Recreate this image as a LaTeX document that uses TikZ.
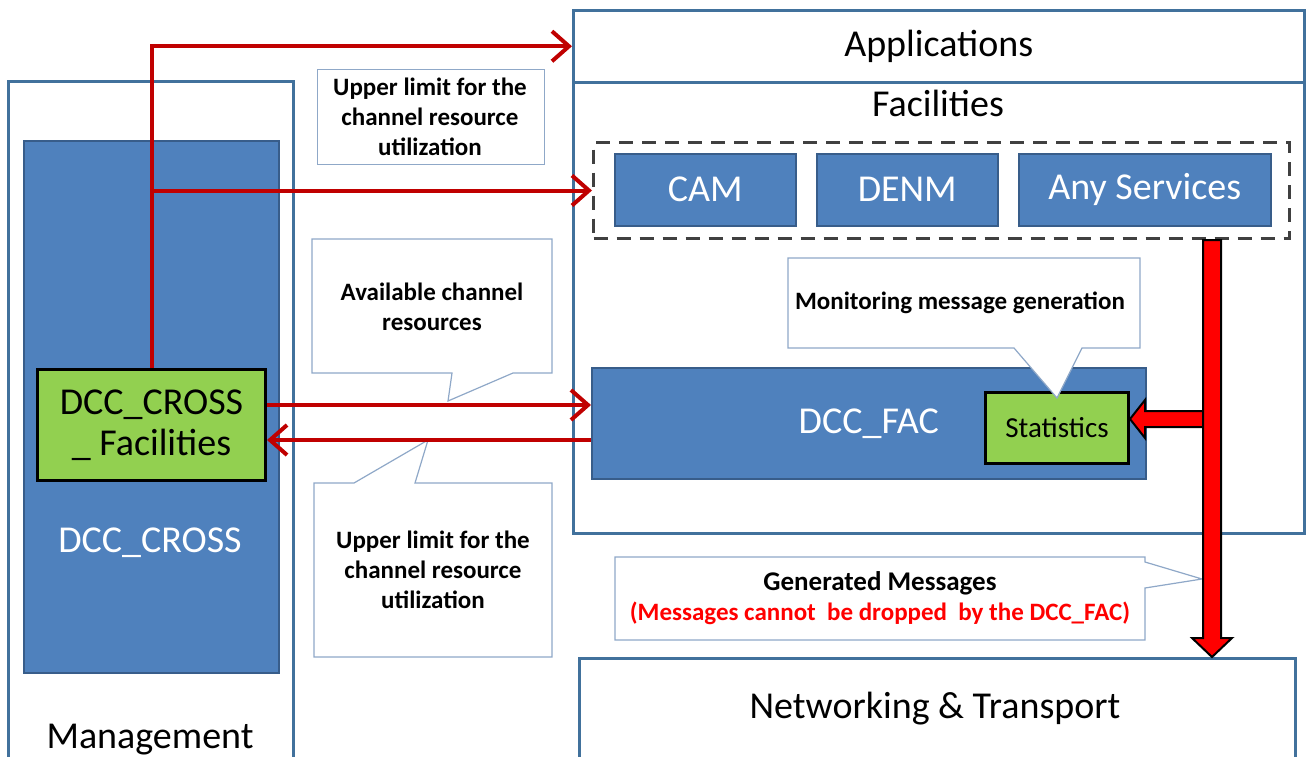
\documentclass[tikz,border=0pt]{standalone}
\usepackage{fontspec}
\setmainfont{Carlito}
\usetikzlibrary{arrows.meta,calc}
\definecolor{boxblue}{HTML}{4F81BD}
\definecolor{boxedge}{HTML}{385D8A}
\definecolor{layeredge}{HTML}{41719C}
\definecolor{statgreen}{HTML}{92D050}
\definecolor{darkred}{HTML}{C00000}
\definecolor{calloutedge}{HTML}{8FA8C8}
\definecolor{dashgray}{HTML}{404040}
\begin{document}
\begin{tikzpicture}[x=1pt,y=-1pt,
  layerbox/.style={draw=layeredge, line width=2.5pt, fill=white, anchor=north west, inner sep=0pt},
  bluebox/.style={draw=boxedge, line width=1.5pt, fill=boxblue, text=white, anchor=north west, inner sep=0pt, font=\fontsize{38}{44}\selectfont},
  greenbox/.style={draw=black, line width=3pt, fill=statgreen, anchor=north west, inner sep=0pt, align=center},
  bigtext/.style={font=\fontsize{38}{44}\selectfont, inner sep=0pt},
  note/.style={font=\bfseries\fontsize{25}{30}\selectfont, align=center, inner sep=0pt},
  outline/.style={draw=calloutedge, line width=1.2pt, fill=white},
  redline/.style={draw=darkred, line width=4pt, -{Straight Barb[length=17pt,width=30pt]}},
  fatarrow/.style={fill=red, draw=black, line width=2pt, line join=miter},
]
\useasboundingbox (0,0) rectangle (1306,756);
\clip (0,0) rectangle (1306,756);

% Management side
\node[layerbox, minimum width=285, minimum height=700] (mgmt) at (7,80) {};
\node[bigtext, anchor=base] (mgmtlabel) at (150,748) {Management};
\node[bluebox, minimum width=255, minimum height=532] (cross) at (23,140) {};
\node[bigtext, text=white] (crosslabel) at (150,543) {DCC\_CROSS};
\node[greenbox, minimum width=228, minimum height=111, font=\fontsize{38}{41}\selectfont] (green) at (36,368) {DCC\_CROSS\\\_ Facilities};

% Facilities / Applications
\node[layerbox, minimum width=731, minimum height=451] (facil) at (572,81) {};
\node[bigtext] (faciltext) at (938,103) {Facilities};
\node[layerbox, minimum width=731, minimum height=72, font=\fontsize{38}{44}\selectfont] (apps) at (572,9) {Applications};
\node[draw=dashgray, line width=3pt, dash pattern=on 14pt off 9pt, anchor=north west, inner sep=0pt, minimum width=696, minimum height=96] (dashbox) at (592,141) {};
\node[bluebox, minimum width=181, minimum height=72] (cam) at (614,153) {CAM};
\node[bluebox, minimum width=181, minimum height=72] (denm) at (816,153) {DENM};
\node[bluebox, minimum width=252, minimum height=72] (anysvc) at (1018,153) {Any Services};
\node[bluebox, minimum width=554, minimum height=111] (fac) at (591,367) {DCC\_FAC};
\node[greenbox, minimum width=143, minimum height=71, font=\fontsize{29}{35}\selectfont] (stat) at (984,391) {Statistics};

% Networking
\node[layerbox, minimum width=716, minimum height=150] (net) at (578,657) {};
\node[bigtext] (nettext) at (935,709) {Networking \& Transport};

% Notes and callouts
\node[outline, note, anchor=north west, minimum width=227, minimum height=95] (uppertop) at (317,69) {};
\node[note] (uppertoptext) at (430,117) {Upper limit for the\\channel resource\\utilization};

\draw[outline] (312,239) -- (552,239) -- (552,373) -- (513,373) -- (448,401) -- (452,373) -- (312,373) -- cycle;
\node[note] (availtext) at (432,307) {Available channel\\resources};

\draw[outline] (314,483) -- (354,483) -- (428,440) -- (415,483) -- (552,483) -- (552,657) -- (314,657) -- cycle;
\node[note] (lowertext) at (433,570) {Upper limit for the\\channel resource\\utilization};

\draw[outline] (788,258) -- (1140,258) -- (1140,348) -- (1082,348) -- (1057,398) -- (1014,348) -- (788,348) -- cycle;
\node[note] (montext) at (960,303) {Monitoring message generation};

\draw[outline] (615,557) -- (1145,557) -- (1145,562) -- (1202,579) -- (1145,588) -- (1145,640) -- (615,640) -- cycle;
\node[note] (gentext) at (880,598) {{\fontsize{27}{30}\selectfont Generated Messages}\\\textcolor{red}{(Messages cannot\ \ be dropped\ \ by the DCC\_FAC)}};

% Thin red connectors
\draw[redline] (green.north) |- (apps.west);
\draw[redline] (green.north |- dashbox.west) -- (dashbox.west);
\coordinate (outy) at ([yshift=20pt]green.east);
\coordinate (iny) at ([yshift=-15pt]green.east);
\draw[redline] (outy) -- (outy -| fac.west);
\draw[redline] (iny -| fac.west) -- (iny);

% Fat red arrows
\coordinate (fattop) at (dashbox.south -| 1212,0);
\coordinate (fatend) at (net.north -| 1212,0);
\coordinate (branch) at (1205,419);
\coordinate (branchtip) at (branch -| stat.east);
\draw[fatarrow] (branch) ++(0,-8) -- ($(branchtip)+(15,-8)$) -- ($(branchtip)+(15,-19)$) -- (branchtip) -- ($(branchtip)+(15,19)$) -- ($(branchtip)+(15,8)$) -- ($(branch)+(0,8)$) -- cycle;
\draw[fatarrow] ($(fattop)+(-9,0)$) -- ($(fatend)+(-9,-19)$) -- ($(fatend)+(-20,-19)$) -- (fatend) -- ($(fatend)+(20,-19)$) -- ($(fatend)+(9,-19)$) -- ($(fattop)+(9,0)$) -- cycle;
\end{tikzpicture}
\end{document}
